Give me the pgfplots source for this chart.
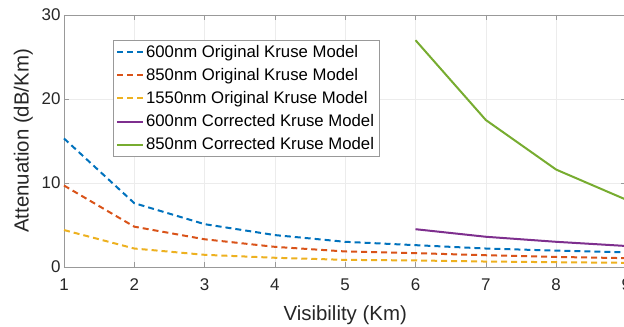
\documentclass[border=0pt]{standalone}
\usepackage{pgfplots}
\pgfplotsset{compat=1.18}
\usepackage{fontspec}
\setmainfont{Liberation Sans}
\definecolor{mblue}{rgb}{0,0.447,0.741}
\definecolor{morange}{rgb}{0.85,0.325,0.098}
\definecolor{myellow}{rgb}{0.929,0.694,0.125}
\definecolor{mpurple}{rgb}{0.494,0.184,0.556}
\definecolor{mgreen}{rgb}{0.466,0.674,0.188}
\definecolor{axgray}{gray}{0.6}
\definecolor{txt}{gray}{0.15}
\begin{document}
\begin{tikzpicture}
\begin{axis}[
  x=70.3bp, y=8.4bp,
  xmin=1, xmax=9, ymin=0, ymax=30,
  xtick={1,2,3,4,5,6,7,8,9}, ytick={0,10,20,30},
  tick align=inside,
  major tick length=5bp,
  axis line style={axgray, line width=0.6bp},
  tick style={axgray, line width=0.6bp},
  grid=major,
  major grid style={gray!15, line width=0.5bp},
  /pgf/number format/assume math mode=true,
  ticklabel style={font=\fontsize{17}{20}\selectfont, text=txt},
  xticklabel style={yshift=-8bp},
  xlabel={Visibility (Km)},
  ylabel={Attenuation (dB/Km)},
  label style={font=\fontsize{20.5}{24}\selectfont, text=txt},
  xlabel style={yshift=-8bp},
  ylabel style={yshift=2bp},
  legend cell align=left,
  legend style={at={(0.087,0.9)}, anchor=north west, draw=axgray,
    font=\fontsize{16.8}{20}\selectfont, text=black,
    row sep=5.5bp, inner sep=3bp},
  legend image code/.code={\draw[#1, line width=2bp] (0bp,0bp) -- (26bp,0bp);},
  clip=false,
]
\addplot[mblue, line width=2bp, dash pattern=on 6bp off 4bp] coordinates {(1,15.3) (2,7.6) (3,5.1) (4,3.8) (5,3.0) (6,2.6) (7,2.2) (8,1.95) (9,1.75)};
\addlegendentry{600nm Original Kruse Model}
\addplot[morange, line width=2bp, dash pattern=on 6bp off 4bp] coordinates {(1,9.7) (2,4.8) (3,3.3) (4,2.4) (5,1.85) (6,1.65) (7,1.4) (8,1.2) (9,1.05)};
\addlegendentry{850nm Original Kruse Model}
\addplot[myellow, line width=2bp, dash pattern=on 6bp off 4bp] coordinates {(1,4.4) (2,2.2) (3,1.45) (4,1.1) (5,0.85) (6,0.78) (7,0.65) (8,0.57) (9,0.5)};
\addlegendentry{1550nm Original Kruse Model}
\addplot[mpurple, line width=2bp] coordinates {(6,4.5) (7,3.6) (8,3.0) (9,2.5)};
\addlegendentry{600nm Corrected Kruse Model}
\addplot[mgreen, line width=2bp] coordinates {(6,27.0) (7,17.5) (8,11.6) (9,8.0)};
\addlegendentry{850nm Corrected Kruse Model}
\coordinate (o) at (axis cs:1,0);
\end{axis}
\pgfresetboundingbox
\path[use as bounding box] (o) ++(-64bp,-60bp) rectangle ++(624bp,327bp);
\end{tikzpicture}
\end{document}
